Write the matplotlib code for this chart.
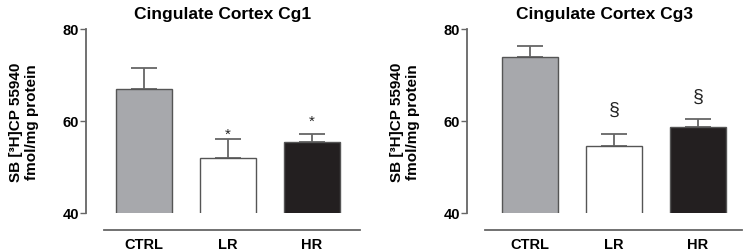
import matplotlib
matplotlib.use('Agg')
import matplotlib.pyplot as plt

plt.rcParams['font.family'] = ['Liberation Sans', 'DejaVu Sans']
plt.rcParams['font.weight'] = 'bold'

# ── data ─────────────────────────────────────────────────────────────────────
groups = ['CTRL', 'LR', 'HR']
cg1_mean = [66.9, 52.0, 55.4]
cg1_err  = [4.6, 4.1, 1.8]
cg1_sig  = ['', '*', '*']
cg1_sig_y = [None, 57.2, 60.0]

cg3_mean = [74.0, 54.6, 58.8]
cg3_err  = [2.2, 2.5, 1.6]
cg3_sig  = ['', '§', '§']
cg3_sig_y = [None, 62.6, 65.4]

fills = ['#a7a8ac', '#ffffff', '#231f20']
edge = '#555555'
axcol = '#666666'

W, H = 743, 253
fig = plt.figure(figsize=(W / 100, H / 100), dpi=100)


def panel(left_px, xlim, title, means, errs, sig, sig_y, ylab_x):
    x0, x1 = xlim
    unit = 84.0
    ax = fig.add_axes([left_px / W, (H - 214) / H, (x1 - x0) * unit / W, 184 / H])
    xs = range(len(groups))
    ax.bar(xs, means, width=0.66, bottom=0, color=fills, edgecolor=edge,
           linewidth=1.0, zorder=2)
    ax.errorbar(xs, means, yerr=[[0] * len(errs), errs], fmt='none',
                ecolor=axcol, elinewidth=1.3, capsize=9.5, capthick=1.3, zorder=1)
    for x, s, y in zip(xs, sig, sig_y):
        if s:
            fs = 11 if s == '*' else 14
            ax.text(x, y, s, ha='center', va='center', fontsize=fs,
                    fontweight='normal', color='#222222')
    ax.set_xlim(x0, x1)
    ax.set_ylim(40, 80)
    ax.set_yticks([40, 60, 80])
    ax.set_xticks(list(xs))
    ax.set_xticklabels(groups)
    for s in ['top', 'right']:
        ax.spines[s].set_visible(False)
    ax.spines['left'].set_bounds(40, 80)
    ax.spines['left'].set_color(axcol)
    ax.spines['left'].set_linewidth(1.3)
    ax.spines['bottom'].set_position(('outward', 12))
    ax.spines['bottom'].set_bounds(x0 + 0.22, x1)
    ax.spines['bottom'].set_color(axcol)
    ax.spines['bottom'].set_linewidth(1.3)
    ax.tick_params(axis='y', length=4, width=1.0, color=axcol, labelsize=10.5, pad=1)
    ax.tick_params(axis='x', length=0, labelsize=10.5, pad=5)
    ax.set_title(title, fontsize=12.5, fontweight='bold', pad=8)
    fig.text(ylab_x / W, (H - 122) / H, 'SB [³H]CP 55940\nfmol/mg protein',
             rotation=90, ha='center', va='center', fontsize=11,
             fontweight='bold', linespacing=1.1)
    return ax


panel(86, (-0.69, 2.57), 'Cingulate Cortex Cg1', cg1_mean, cg1_err,
      cg1_sig, cg1_sig_y, 24)
panel(467, (-0.75, 2.52), 'Cingulate Cortex Cg3', cg3_mean, cg3_err,
      cg3_sig, cg3_sig_y, 405)

fig.savefig('out.png', dpi=100)
